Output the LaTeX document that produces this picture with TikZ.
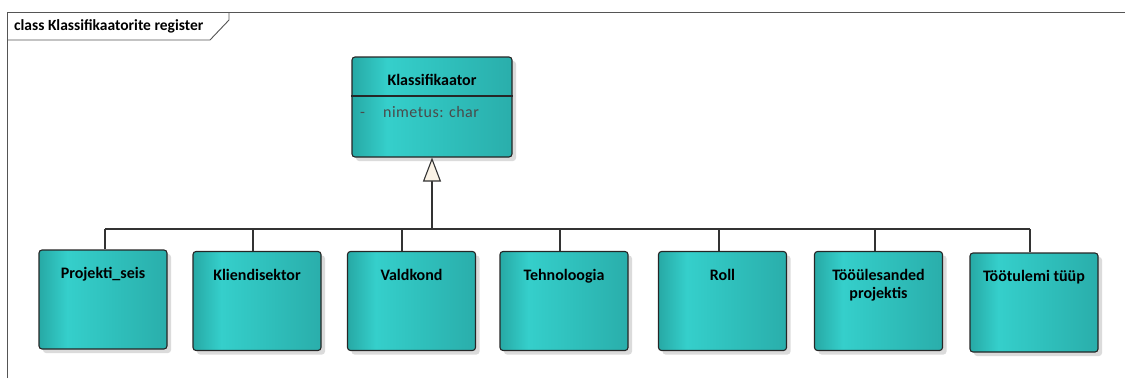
\documentclass[tikz,border=0pt]{standalone}
\usepackage{fontspec}
\setmainfont{Carlito}
\usetikzlibrary{arrows.meta,shadows}

\definecolor{tealdark}{HTML}{27A9A5}
\definecolor{teallight}{HTML}{35CFCB}
\definecolor{tealmid}{HTML}{2FBFBB}
\definecolor{tealright}{HTML}{2AAEAB}
\definecolor{linecol}{HTML}{333333}
\definecolor{framecol}{HTML}{555555}
\definecolor{tricream}{HTML}{FBF3E6}
\definecolor{attrcol}{HTML}{4A4A4A}

\pgfdeclarehorizontalshading{classfill}{100bp}{%
  color(0bp)=(tealdark); color(25bp)=(tealdark); color(36bp)=(teallight);
  color(55bp)=(tealmid); color(75bp)=(tealright); color(100bp)=(tealright)}

\tikzset{
  classbox/.style={draw=black!85, line width=1.1pt, rounded corners=3pt,
    shading=classfill, minimum width=128pt, minimum height=99pt, inner sep=0pt,
    general shadow={fill=black!14, shadow xshift=4pt, shadow yshift=-4pt}},
  classtitle/.style={font=\fontsize{16}{18.5}\selectfont\bfseries, text=black,
    align=center, anchor=north, inner sep=0pt, yshift=-18pt},
  attr/.style={font=\fontsize{16}{19}\selectfont\addfontfeature{LetterSpace=3},
    text=attrcol, inner sep=0pt, anchor=base west},
  link/.style={draw=linecol, line width=1.1pt},
}

\begin{document}
\begin{tikzpicture}[x=1pt, y=-1pt]
\useasboundingbox (0,0) rectangle (1125,378);

% diagram frame with its name tab
\draw[framecol, line width=0.9pt] (7,378) -- (7,12) -- (1125,12);
\draw[framecol, line width=0.9pt] (7,40) -- (210,40) -- (229,20) -- (229,12);
\node[font=\fontsize{15.5}{18}\selectfont\bfseries, anchor=west, inner sep=0pt] (frametitle)
  at (14,26) {class Klassifikaatorite register};

% general class
\node[classbox, minimum width=160pt, minimum height=100pt] (base) at (432,107) {};
\coordinate (sepy) at (0,96);
\draw[black!85, line width=1.1pt] (base.west |- sepy) -- (base.east |- sepy);
\node[classtitle] (basetitle) at (base.north) {Klassifikaator};
\node[attr] (attrdash) at (360,117) {-};
\node[attr] (attrname) at (383,117) {nimetus: char};

% specialised classes
\node[classbox] (c1) at (103,299.5) {};
\node[classbox] (c2) at (257,301) {};
\node[classbox] (c3) at (411.5,301) {};
\node[classbox] (c4) at (564,301) {};
\node[classbox] (c5) at (722.5,301) {};
\node[classbox] (c6) at (878.5,301) {};
\node[classbox] (c7) at (1034,302.5) {};

\node[classtitle] (t1) at (c1.north) {Projekti\_seis};
\node[classtitle] (t2) at (c2.north) {Kliendisektor};
\node[classtitle] (t3) at (c3.north) {Valdkond};
\node[classtitle] (t4) at (c4.north) {Tehnoloogia};
\node[classtitle] (t5) at (c5.north) {Roll};
\node[classtitle] (t6) at (c6.north) {Tööülesanded\\projektis};
\node[classtitle] (t7) at (c7.north) {Töötulemi tüüp};

% generalization tree
\coordinate (bus) at (432,229);
\coordinate (d1) at ([xshift=2pt]c1.north);
\coordinate (d2) at ([xshift=-4pt]c2.north);
\coordinate (d3) at ([xshift=-9.5pt]c3.north);
\coordinate (d4) at ([xshift=-4pt]c4.north);
\coordinate (d5) at ([xshift=-3.5pt]c5.north);
\coordinate (d6) at ([xshift=-3.5pt]c6.north);
\coordinate (d7) at ([xshift=-4pt]c7.north);
\draw[link] (d1 |- bus) -- (d7 |- bus);
\foreach \d in {d1,d2,d3,d4,d5,d6,d7}
  \draw[link] (\d) -- (\d |- bus);
\draw[link, -{Triangle[length=24pt, width=18pt, fill=tricream]}] (bus) -- (base.south);
\end{tikzpicture}
\end{document}
